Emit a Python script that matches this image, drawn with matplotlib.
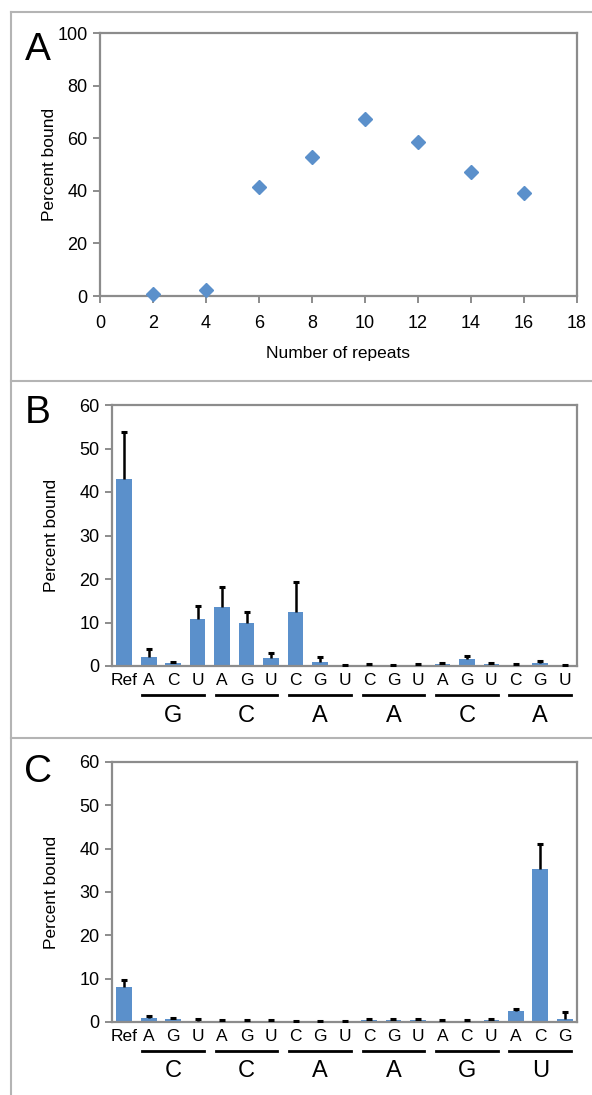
import matplotlib
matplotlib.use('Agg')
import matplotlib.pyplot as plt
from matplotlib.lines import Line2D

plt.rcParams['font.family'] = ['Liberation Sans', 'DejaVu Sans']

# panel A data
repeats = [2, 4, 6, 8, 10, 12, 14, 16]
pct_bound_a = [0.6, 2.2, 41.5, 52.7, 67.3, 58.4, 47.0, 39.0]

# panel B data
labels_b = ['Ref', 'A', 'C', 'U', 'A', 'G', 'U', 'C', 'G', 'U',
            'C', 'G', 'U', 'A', 'G', 'U', 'C', 'G', 'U']
groups_b = ['G', 'C', 'A', 'A', 'C', 'A']
values_b = [43.0, 2.0, 0.6, 10.9, 13.6, 9.8, 1.8, 12.3, 0.9, 0.15,
            0.2, 0.15, 0.25, 0.4, 1.6, 0.4, 0.2, 0.8, 0.1]
errors_b = [10.7, 1.8, 0.25, 2.9, 4.6, 2.5, 1.3, 7.0, 1.2, 0.1,
            0.2, 0.15, 0.2, 0.2, 0.8, 0.2, 0.2, 0.4, 0.1]

# panel C data
labels_c = ['Ref', 'A', 'G', 'U', 'A', 'G', 'U', 'C', 'G', 'U',
            'C', 'G', 'U', 'A', 'C', 'U', 'A', 'C', 'G']
groups_c = ['C', 'C', 'A', 'A', 'G', 'U']
values_c = [8.0, 1.0, 0.6, 0.3, 0.2, 0.3, 0.2, 0.1, 0.1, 0.05,
            0.5, 0.5, 0.5, 0.3, 0.2, 0.5, 2.6, 35.4, 0.8]
errors_c = [1.8, 0.3, 0.3, 0.3, 0.2, 0.2, 0.2, 0.2, 0.2, 0.15,
            0.3, 0.3, 0.2, 0.2, 0.2, 0.2, 0.4, 5.7, 1.4]

blue = '#5b90cb'
spine_col = '#8c8c8c'
frame_col = '#b4b4b4'

W, H = 592, 1095
fig = plt.figure(figsize=(W / 100, H / 100), dpi=100)


def px_axes(left, top, right, bottom):
    return fig.add_axes([left / W, 1 - bottom / H, (right - left) / W, (bottom - top) / H])


def style_axes(ax):
    for s in ax.spines.values():
        s.set_color(spine_col)
        s.set_linewidth(1.6)
    ax.tick_params(axis='y', direction='out', length=5, width=1.4, color=spine_col,
                   labelsize=13, pad=4)
    ax.set_ylabel('Percent bound', fontsize=12.5)


# frame lines round the panels
for y in [12, 381, 738]:
    fig.add_artist(Line2D([11 / W, 1], [1 - y / H, 1 - y / H], color=frame_col, lw=1.5))
fig.add_artist(Line2D([11 / W, 11 / W], [1 - 12 / H, 0], color=frame_col, lw=1.5))

# ---- panel A ----
axa = px_axes(100, 33, 577, 296)
axa.plot(repeats, pct_bound_a, linestyle='none', marker='D', markersize=7.5,
         color=blue, clip_on=False, zorder=3)
axa.set_xlim(0, 18)
axa.set_ylim(0, 100)
axa.set_xticks(range(0, 19, 2))
axa.set_yticks(range(0, 101, 20))
style_axes(axa)
axa.tick_params(axis='x', direction='out', length=5, width=1.4, color=spine_col,
                labelsize=13, pad=9)
axa.set_xlabel('Number of repeats', fontsize=12.5, labelpad=10)
axa.yaxis.set_label_coords(-0.09, 0.5)
fig.text(38 / W, 1 - 50 / H, 'A', fontsize=28, ha='center', va='center')


def bar_panel(ax, labels, values, errors, groups, letter, ly):
    x = list(range(len(labels)))
    ax.bar(x, values, width=0.64, color=blue, zorder=2)
    eb = ax.errorbar(x, values, yerr=[[0] * len(errors), errors], fmt='none',
                     ecolor='black', elinewidth=1.8, capsize=2.5, capthick=2.2, zorder=3)
    # only the upper cap is drawn in the reference
    eb[1][0].set_visible(False)
    ax.set_xlim(-0.5, len(labels) - 0.5)
    ax.set_ylim(0, 60)
    ax.set_yticks(range(0, 61, 10))
    ax.set_xticks(x)
    ax.set_xticklabels(labels)
    style_axes(ax)
    ax.tick_params(axis='x', length=0, labelsize=12.5, pad=5)
    ax.yaxis.set_label_coords(-0.115, 0.5)
    trans = ax.get_xaxis_transform()
    for k, g in enumerate(groups):
        x0 = 1 + 3 * k - 0.26
        x1 = 3 + 3 * k + 0.26
        ax.add_line(Line2D([x0, x1], [-0.112, -0.112], transform=trans, color='black',
                           lw=2, clip_on=False))
        ax.text(2 + 3 * k, -0.19, g, transform=trans, ha='center', va='center',
                fontsize=17)
    fig.text(38 / W, 1 - ly / H, letter, fontsize=28, ha='center', va='center')


axb = px_axes(112, 405, 577, 666)
bar_panel(axb, labels_b, values_b, errors_b, groups_b, 'B', 413)

axc = px_axes(112, 762, 577, 1022)
bar_panel(axc, labels_c, values_c, errors_c, groups_c, 'C', 772)

fig.savefig('out.png', dpi=100)
